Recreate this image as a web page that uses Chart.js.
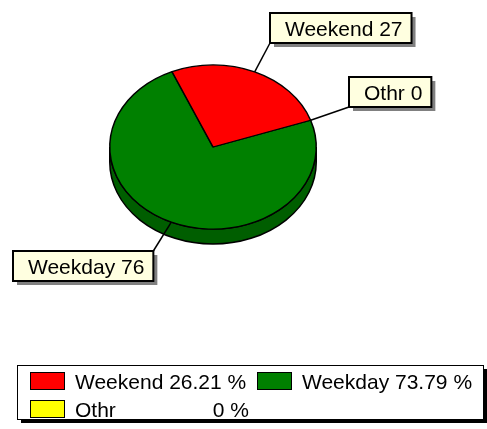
<!DOCTYPE html>
<html>
<head>
<meta charset="utf-8">
<script src="https://cdn.jsdelivr.net/npm/chart.js@4.4.0/dist/chart.umd.min.js"></script>
<style>
  html, body { margin: 0; padding: 0; background: #fff; }
  canvas { display: block; }
</style>
</head>
<body>
<canvas id="pieChart" width="487" height="429"></canvas>
<script>
const labels = ["Weekend", "Weekday", "Othr"];
const values = [27, 76, 0];
const colors = ["#FF0000", "#008000", "#FFFF00"];
const sideColors = ["#B00000", "#005E00", "#B0B000"];

const FONT = "21px 'Liberation Sans', Arial, sans-serif";
const squash = 0.795; // ellipse height / width
const depth = 15;
const pieCenterY = 147;

const total = values.reduce((a, b) => a + b, 0);
// the original goes round counter-clockwise, so feed the slices reversed
const order = labels.map((_, i) => i).reverse();

// callout boxes, and which corner the leader line goes to
const callouts = [
  { x: 270, y: 13, corner: "bl" },
  { x: 13, y: 251, corner: "tr" },
  { x: 349, y: 77, corner: "bl" },
];

function arcFor(chart, i) {
  const meta = chart.getDatasetMeta(0);
  return meta.data[order.indexOf(i)];
}

function onRim(arc, a) {
  return {
    x: arc.x + arc.outerRadius * Math.cos(a),
    y: pieCenterY + arc.outerRadius * squash * Math.sin(a),
  };
}

const pie3d = {
  id: "pie3d",
  beforeDatasetsDraw(chart) {
    const ctx = chart.ctx;
    const meta = chart.getDatasetMeta(0);
    // side wall, front half only (0..PI)
    meta.data.forEach((arc, j) => {
      const i = order[j];
      for (let k = -1; k <= 1; k++) {
        const s = Math.max(arc.startAngle + k * 2 * Math.PI, 0);
        const e = Math.min(arc.endAngle + k * 2 * Math.PI, Math.PI);
        if (e <= s) continue;
        const rx = arc.outerRadius;
        const ry = arc.outerRadius * squash;
        ctx.beginPath();
        ctx.ellipse(arc.x, pieCenterY, rx, ry, 0, s, e);
        ctx.ellipse(arc.x, pieCenterY + depth, rx, ry, 0, e, s, true);
        ctx.closePath();
        ctx.fillStyle = sideColors[i];
        ctx.fill();
        ctx.lineWidth = 1.5;
        ctx.strokeStyle = "#000";
        ctx.stroke();
      }
    });
    const y0 = meta.data[0].y;
    ctx.save();
    ctx.translate(0, pieCenterY);
    ctx.scale(1, squash);
    ctx.translate(0, -y0);
  },
  afterDatasetsDraw(chart) {
    chart.ctx.restore();
  },
  afterDraw(chart) {
    const ctx = chart.ctx;
    ctx.save();
    ctx.font = FONT;
    ctx.textBaseline = "alphabetic";

    // callouts
    labels.forEach((name, i) => {
      const arc = arcFor(chart, i);
      const mid = (arc.startAngle + arc.endAngle) / 2;
      const p = onRim(arc, mid);
      const c = callouts[i];
      const text = `${name} ${values[i]}`;
      const w = ctx.measureText(text).width + 24;
      const h = 30;
      const ax = c.corner === "tr" ? c.x + w : c.x;
      const ay = c.corner === "tr" ? c.y : c.y + h;
      ctx.beginPath();
      ctx.moveTo(p.x, p.y);
      ctx.lineTo(ax, ay);
      ctx.lineWidth = 1.5;
      ctx.strokeStyle = "#000";
      ctx.stroke();
      ctx.fillStyle = "#808080";
      ctx.fillRect(c.x + 4, c.y + 4, w, h);
      ctx.fillStyle = "#FFFFE0";
      ctx.fillRect(c.x, c.y, w, h);
      ctx.lineWidth = 2;
      ctx.strokeRect(c.x, c.y, w, h);
      ctx.fillStyle = "#000";
      ctx.textAlign = "left";
      ctx.fillText(text, c.x + 15, c.y + 23);
    });

    // legend box
    const lx = 17, ly = 365, lw = 466, lh = 54;
    ctx.fillStyle = "#000";
    ctx.fillRect(lx + 4, ly + 4, lw, lh);
    ctx.fillStyle = "#fff";
    ctx.fillRect(lx, ly, lw, lh);
    ctx.lineWidth = 1;
    ctx.strokeStyle = "#000";
    ctx.strokeRect(lx + 0.5, ly + 0.5, lw, lh);

    const colX = [30, 257];
    const rowBase = [389, 417];
    const space = ctx.measureText(" ").width;
    labels.forEach((name, i) => {
      const x = colX[i % 2];
      const base = rowBase[Math.floor(i / 2)];
      const pct = Number((values[i] / total * 100).toFixed(2));
      const pctText = `${pct} %`;
      ctx.fillStyle = colors[i];
      ctx.fillRect(x, base - 17, 34, 17);
      ctx.lineWidth = 1;
      ctx.strokeStyle = "#000";
      ctx.strokeRect(x + 0.5, base - 16.5, 34, 17);
      ctx.fillStyle = "#000";
      ctx.textAlign = "left";
      ctx.fillText(name, x + 45, base);
      // percentage sits right-aligned, unless it would nearly touch the name
      const nameEnd = x + 45 + ctx.measureText(name).width + space;
      const rightX = x + 219 - ctx.measureText(pctText).width;
      const pctX = rightX - nameEnd < 5 ? nameEnd : rightX;
      ctx.fillText(pctText, pctX, base);
    });
    ctx.restore();
  },
};

new Chart(document.getElementById("pieChart"), {
  type: "pie",
  data: {
    labels: order.map((i) => labels[i]),
    datasets: [
      {
        data: order.map((i) => values[i]),
        backgroundColor: order.map((i) => colors[i]),
        borderColor: "#000",
        borderWidth: 1.5,
      },
    ],
  },
  options: {
    responsive: false,
    animation: false,
    events: [],
    rotation: 71,
    layout: { padding: { left: 109, right: 170, top: 43, bottom: 178 } },
    plugins: {
      legend: { display: false },
      tooltip: { enabled: false },
    },
  },
  plugins: [pie3d],
});
</script>
</body>
</html>
